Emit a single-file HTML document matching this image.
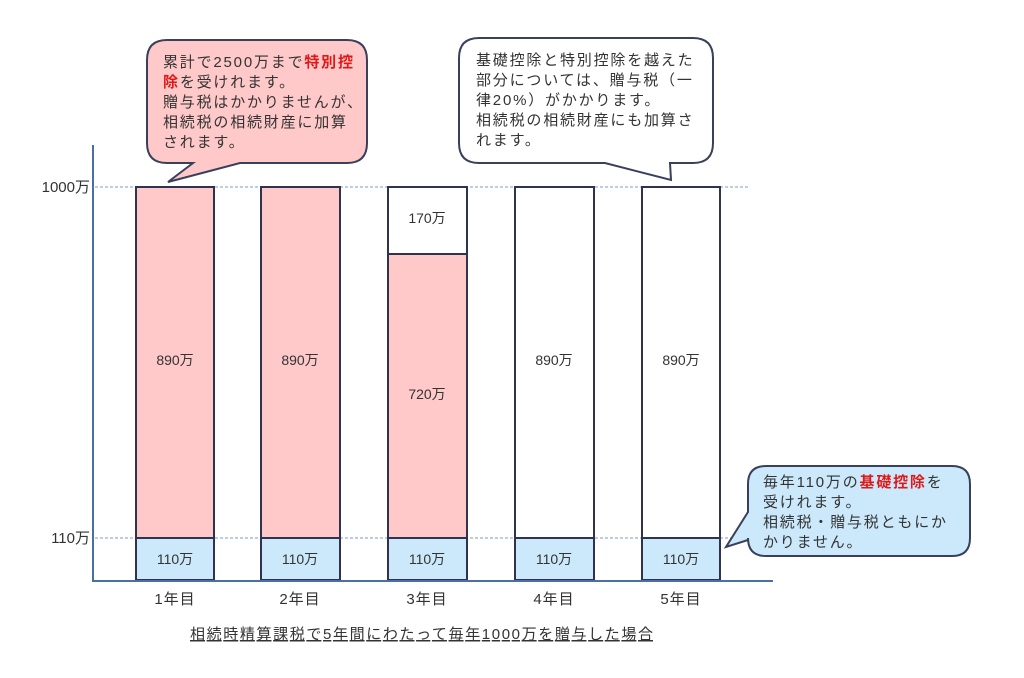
<!DOCTYPE html>
<html><head><meta charset="utf-8"><style>
html,body{margin:0;padding:0;background:#fff;}
svg{display:block;font-family:"Liberation Sans","Noto Sans CJK JP",sans-serif;}
.c text{letter-spacing:1.8px;}
</style></head><body>
<svg width="1024" height="678" viewBox="0 0 1024 678" xmlns="http://www.w3.org/2000/svg">
<line x1="95" y1="187" x2="748" y2="187" stroke="#7a9cc0" stroke-width="1" stroke-dasharray="3,2"/>
<line x1="95" y1="538" x2="748" y2="538" stroke="#7a9cc0" stroke-width="1" stroke-dasharray="3,2"/>
<g stroke="#2f3350" stroke-width="2">
<rect x="136" y="187" width="78" height="351" fill="#ffc9c9"/>
<rect x="136" y="538" width="78" height="42" fill="#cce9fb"/>
<rect x="261" y="187" width="79" height="351" fill="#ffc9c9"/>
<rect x="261" y="538" width="79" height="42" fill="#cce9fb"/>
<rect x="388" y="187" width="79" height="67" fill="#fff"/>
<rect x="388" y="254" width="79" height="284" fill="#ffc9c9"/>
<rect x="388" y="538" width="79" height="42" fill="#cce9fb"/>
<rect x="515" y="187" width="79" height="351" fill="#fff"/>
<rect x="515" y="538" width="79" height="42" fill="#cce9fb"/>
<rect x="642" y="187" width="78" height="351" fill="#fff"/>
<rect x="642" y="538" width="78" height="42" fill="#cce9fb"/>
</g>
<line x1="93" y1="145" x2="93" y2="582" stroke="#4a6fa5" stroke-width="2"/>
<line x1="92" y1="581" x2="773" y2="581" stroke="#4a6fa5" stroke-width="2"/>
<g font-size="14" fill="#333" text-anchor="middle">
<text x="175" y="365">890万</text><text x="300" y="365">890万</text>
<text x="427" y="223">170万</text><text x="427" y="399">720万</text>
<text x="554" y="365">890万</text><text x="681" y="365">890万</text>
<text x="175" y="564">110万</text><text x="300" y="564">110万</text><text x="427" y="564">110万</text><text x="554" y="564">110万</text><text x="681" y="564">110万</text>
</g>
<g font-size="15" fill="#333" text-anchor="middle" letter-spacing="1">
<text x="175" y="604">1年目</text><text x="300" y="604">2年目</text><text x="427" y="604">3年目</text><text x="554" y="604">4年目</text><text x="681" y="604">5年目</text>
</g>
<g font-size="15" fill="#333" text-anchor="end">
<text x="90" y="192">1000万</text><text x="90" y="543">110万</text>
</g>
<text x="190" y="639" font-size="15" fill="#333" textLength="463" lengthAdjust="spacing" text-decoration="underline">相続時精算課税で5年間にわたって毎年1000万を贈与した場合</text>
<path d="M167,40 H347 Q367,40 367,60 V143 Q367,163 347,163 H240 L168,182 L193,163 H167 Q147,163 147,143 V60 Q147,40 167,40 Z" fill="#ffc9c9" stroke="#3a3f5c" stroke-width="2"/>
<g class="c" font-size="15" fill="#333">
<text x="163" y="67">累計で2500万まで<tspan fill="#e01818" font-weight="bold">特別控</tspan></text>
<text x="163" y="87"><tspan fill="#e01818" font-weight="bold">除</tspan>を受けれます。</text>
<text x="163" y="107">贈与税はかかりませんが、</text>
<text x="163" y="127">相続税の相続財産に加算</text>
<text x="163" y="147">されます。</text>
</g>
<path d="M479,38 H693 Q713,38 713,58 V143 Q713,163 693,163 H670 L671,180 L605,163 H479 Q459,163 459,143 V58 Q459,38 479,38 Z" fill="#fff" stroke="#3a3f5c" stroke-width="2"/>
<g class="c" font-size="15" fill="#333">
<text x="476" y="65">基礎控除と特別控除を越えた</text>
<text x="476" y="85">部分については、贈与税（一</text>
<text x="476" y="105">律20%）がかかります。</text>
<text x="476" y="125">相続税の相続財産にも加算さ</text>
<text x="476" y="145">れます。</text>
</g>
<path d="M766,466 H952 Q970,466 970,484 V538 Q970,556 952,556 H766 Q748,556 748,538 V540 L726,547 L748,512 V484 Q748,466 766,466 Z" fill="#cce9fb" stroke="#3a3f5c" stroke-width="2"/>
<g class="c" font-size="15" fill="#333">
<text x="763" y="487">毎年110万の<tspan fill="#e01818" font-weight="bold">基礎控除</tspan>を</text>
<text x="763" y="507">受けれます。</text>
<text x="763" y="527">相続税・贈与税ともにか</text>
<text x="763" y="547">かりません。</text>
</g>
</svg>
</body></html>
